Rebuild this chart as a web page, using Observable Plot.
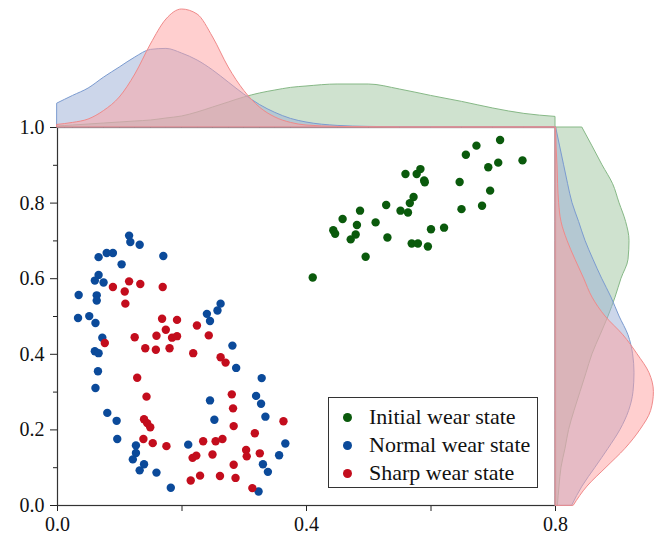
<!DOCTYPE html>
<html>
<head>
<meta charset="utf-8">
<script src="https://cdn.jsdelivr.net/npm/d3@7"></script>
<script src="https://cdn.jsdelivr.net/npm/@observablehq/plot@0.6"></script>
<style>
  html, body { margin: 0; padding: 0; background: white; }
  #chart { position: relative; width: 664px; height: 541px; }
  #chart svg { position: absolute; }
  #legend {
    position: absolute; left: 328px; top: 397px; width: 210px; height: 91px;
    box-sizing: border-box; border: 1px solid #333; background: white;
    font-family: "Liberation Serif", serif; font-size: 22px; color: #111;
    padding-top: 5px;
  }
  #legend .row { display: flex; align-items: center; height: 28px; }
  #legend .sw { width: 9px; height: 9px; border-radius: 50%; margin-left: 14px; margin-right: 17px; }
</style>
</head>
<body>
<div id="chart"></div>
<script>
// Series names and colours
const seriesNames = ["Initial wear state", "Normal wear state", "Sharp wear state"];
const seriesColors = ["#0a5a0c", "#0b4a9a", "#c30d1d"];
const fillColors = ["#9fc69f", "#99aed6", "#ff9f9f"];
const lineColors = ["#86b886", "#7b9bd0", "#f08a8a"];

// Initial wear state
const initialX = [0.711, 0.673, 0.656, 0.747, 0.708, 0.692, 0.559, 0.577, 0.583, 0.589, 0.590,
  0.646, 0.695, 0.572, 0.566, 0.551, 0.563, 0.528, 0.486, 0.458, 0.511, 0.481, 0.443, 0.446,
  0.479, 0.471, 0.530, 0.495, 0.410, 0.569, 0.579, 0.595, 0.600, 0.621, 0.649, 0.682];
const initialY = [0.967, 0.952, 0.928, 0.913, 0.907, 0.895, 0.877, 0.877, 0.890, 0.860, 0.855,
  0.856, 0.833, 0.816, 0.800, 0.780, 0.775, 0.795, 0.780, 0.758, 0.749, 0.742, 0.728, 0.719,
  0.717, 0.704, 0.709, 0.658, 0.603, 0.693, 0.693, 0.685, 0.731, 0.735, 0.784, 0.793];

// Normal wear state
const normalX = [0.115, 0.117, 0.132, 0.066, 0.079, 0.089, 0.170, 0.103, 0.066, 0.060, 0.074,
  0.034, 0.063, 0.063, 0.033, 0.051, 0.061, 0.072, 0.060, 0.066, 0.065, 0.061, 0.080, 0.095,
  0.096, 0.126, 0.126, 0.121, 0.139, 0.132, 0.159, 0.182, 0.210, 0.240, 0.245, 0.257, 0.262,
  0.281, 0.287, 0.245, 0.252, 0.328, 0.319, 0.327, 0.334, 0.366, 0.356, 0.330, 0.338, 0.323];
const normalY = [0.714, 0.697, 0.690, 0.657, 0.668, 0.668, 0.660, 0.638, 0.610, 0.595, 0.590,
  0.557, 0.556, 0.542, 0.496, 0.501, 0.483, 0.444, 0.408, 0.403, 0.355, 0.311, 0.245, 0.224,
  0.176, 0.159, 0.139, 0.122, 0.109, 0.093, 0.087, 0.047, 0.161, 0.507, 0.488, 0.516, 0.534,
  0.423, 0.364, 0.278, 0.227, 0.337, 0.290, 0.269, 0.235, 0.164, 0.133, 0.109, 0.089, 0.037];

// Sharp wear state
const sharpX = [0.115, 0.089, 0.108, 0.109, 0.133, 0.169, 0.076, 0.124, 0.141, 0.158, 0.159,
  0.168, 0.174, 0.180, 0.184, 0.192, 0.192, 0.128, 0.143, 0.139, 0.144, 0.149, 0.138, 0.153,
  0.175, 0.218, 0.224, 0.243, 0.262, 0.270, 0.280, 0.282, 0.283, 0.283, 0.286, 0.261, 0.229,
  0.214, 0.217, 0.223, 0.234, 0.249, 0.254, 0.265, 0.303, 0.304, 0.317, 0.325, 0.363, 0.313];
const sharpY = [0.593, 0.578, 0.566, 0.534, 0.586, 0.578, 0.430, 0.445, 0.416, 0.412, 0.449,
  0.494, 0.465, 0.416, 0.444, 0.491, 0.448, 0.338, 0.288, 0.228, 0.218, 0.207, 0.176, 0.165,
  0.157, 0.403, 0.476, 0.450, 0.392, 0.378, 0.294, 0.257, 0.210, 0.108, 0.073, 0.078, 0.079,
  0.066, 0.126, 0.132, 0.170, 0.135, 0.170, 0.176, 0.147, 0.130, 0.191, 0.138, 0.223, 0.046];

// Marginal density along x (top panel)
const topGrid = [0, 0.025, 0.05, 0.075, 0.1, 0.125, 0.15, 0.175, 0.2, 0.225, 0.25, 0.275, 0.3,
  0.325, 0.35, 0.375, 0.4, 0.45, 0.5, 0.55, 0.6, 0.65, 0.7, 0.75, 0.8];
const topInitial = [0.05, 0.1, 0.15, 0.2, 0.25, 0.3, 0.35, 0.45, 0.55, 0.75, 1.0, 1.25, 1.5,
  1.7, 1.85, 1.98, 2.05, 2.15, 2.15, 1.9, 1.58, 1.28, 0.95, 0.68, 0.53];
const topNormal = [1.2, 1.58, 1.95, 2.5, 3.0, 3.5, 3.88, 3.93, 3.7, 3.35, 2.85, 2.25, 1.65,
  1.13, 0.73, 0.43, 0.25, 0.08, 0.03, 0.01, 0, 0, 0, 0, 0];
const topSharp = [0.13, 0.23, 0.4, 0.83, 1.5, 2.65, 4.15, 5.4, 5.9, 5.65, 4.5, 3.0, 1.83,
  1.0, 0.5, 0.23, 0.1, 0.03, 0.01, 0, 0, 0, 0, 0, 0];

// Marginal density along y (right panel)
const rightGrid = [0, 0.05, 0.1, 0.15, 0.2, 0.25, 0.3, 0.35, 0.4, 0.45, 0.5, 0.55, 0.6, 0.65,
  0.7, 0.75, 0.8, 0.85, 0.9, 0.95, 1.0];
const rightInitial = [0.12, 0.2, 0.3, 0.5, 0.68, 0.95, 1.25, 1.55, 1.85, 2.25, 2.65, 3.0, 3.3,
  3.65, 3.7, 3.53, 3.2, 2.88, 2.35, 1.85, 1.34];
const rightNormal = [0.84, 1.35, 2.0, 2.65, 3.25, 3.68, 3.9, 3.95, 3.88, 3.65, 3.2, 2.8, 2.33,
  1.9, 1.5, 1.18, 0.85, 0.63, 0.43, 0.23, 0.03];
const rightSharp = [0.92, 1.6, 2.55, 3.5, 4.25, 4.78, 4.92, 4.7, 4.1, 3.4, 2.5, 1.85, 1.43,
  1.0, 0.6, 0.3, 0.18, 0.13, 0.1, 0.05, 0.03];

// Axis ticks
const xTicks = [0, 0.2, 0.4, 0.6, 0.8];
const xTickLabels = ["0.0", "", "0.4", "", "0.8"];
const yTicks = [0, 0.2, 0.4, 0.6, 0.8, 1.0];
const yTickLabels = ["0.0", "0.2", "0.4", "0.6", "0.8", "1.0"];
const yMinorTicks = [0.1, 0.3, 0.5, 0.7, 0.9];

const toPoints = (xs, ys) => xs.map((x, i) => ({x, y: ys[i]}));
const series = [
  toPoints(initialX, initialY),
  toPoints(normalX, normalY),
  toPoints(sharpX, sharpY)
];
const topCurves = [topInitial, topNormal, topSharp].map(v => topGrid.map((g, i) => ({g, d: v[i]})));
const rightCurves = [rightInitial, rightNormal, rightSharp].map(v => rightGrid.map((g, i) => ({g, d: v[i]})));

const xLabel = new Map(xTicks.map((t, i) => [t, xTickLabels[i]]));
const yLabel = new Map(yTicks.map((t, i) => [t, yTickLabels[i]]));

const serif = "Liberation Serif, serif";
const baseStyle = {background: "transparent", fontFamily: serif, fontSize: "20px", color: "#111", overflow: "visible"};

const W = 664, H = 541, mL = 57, mR = 109, mT = 127, mB = 36;

const mainPanel = Plot.plot({
  width: W, height: H,
  marginLeft: mL, marginRight: mR, marginTop: mT, marginBottom: mB,
  style: baseStyle,
  x: {domain: [0, 0.8]},
  y: {domain: [0, 1]},
  marks: [
    Plot.axisY({ticks: yMinorTicks, tickSize: 4, tickFormat: () => "", label: null, stroke: "#222"}),
    Plot.axisY({ticks: yTicks, tickSize: 7, tickPadding: 6, tickFormat: d => yLabel.get(d), label: null,
      stroke: "#222", fontSize: 20, fontFamily: serif, fill: "#111"}),
    Plot.axisX({ticks: xTicks, tickSize: 6, tickPadding: 5, tickFormat: d => xLabel.get(d), label: null,
      stroke: "#222", fontSize: 20, fontFamily: serif, fill: "#111"}),
    ...series.map((pts, k) => Plot.dot(pts, {x: "x", y: "y", r: 4.2, fill: seriesColors[k], stroke: "none"})),
    Plot.frame({stroke: "#333", strokeWidth: 1.2})
  ]
});

const topPanel = Plot.plot({
  width: W, height: mT,
  marginLeft: mL, marginRight: mR, marginTop: 0, marginBottom: 0,
  style: baseStyle,
  x: {domain: [0, 0.8], axis: null},
  y: {domain: [0, 6.35], axis: null},
  marks: topCurves.map((c, k) => Plot.areaY(c, {
    x: "g", y: "d", curve: "monotone-x",
    fill: fillColors[k], fillOpacity: 0.5, stroke: lineColors[k], strokeWidth: 1
  }))
});

const rightPanel = Plot.plot({
  width: mR, height: H,
  marginLeft: 0, marginRight: 0, marginTop: mT, marginBottom: mB,
  style: baseStyle,
  x: {domain: [0, 5.45], axis: null},
  y: {domain: [0, 1], axis: null},
  marks: rightCurves.map((c, k) => Plot.areaX(c, {
    y: "g", x: "d", curve: "monotone-y",
    fill: fillColors[k], fillOpacity: 0.5, stroke: lineColors[k], strokeWidth: 1
  }))
});

const chart = document.getElementById("chart");
mainPanel.style.left = "0px"; mainPanel.style.top = "0px";
topPanel.style.left = "0px"; topPanel.style.top = "0px";
rightPanel.style.left = (W - mR) + "px"; rightPanel.style.top = "0px";
chart.append(mainPanel, topPanel, rightPanel);

// Legend box inside the plot area
const legend = document.createElement("div");
legend.id = "legend";
seriesNames.forEach((name, k) => {
  const row = document.createElement("div");
  row.className = "row";
  const sw = document.createElement("span");
  sw.className = "sw";
  sw.style.background = seriesColors[k];
  const label = document.createElement("span");
  label.textContent = name;
  row.append(sw, label);
  legend.append(row);
});
chart.append(legend);
</script>
</body>
</html>
